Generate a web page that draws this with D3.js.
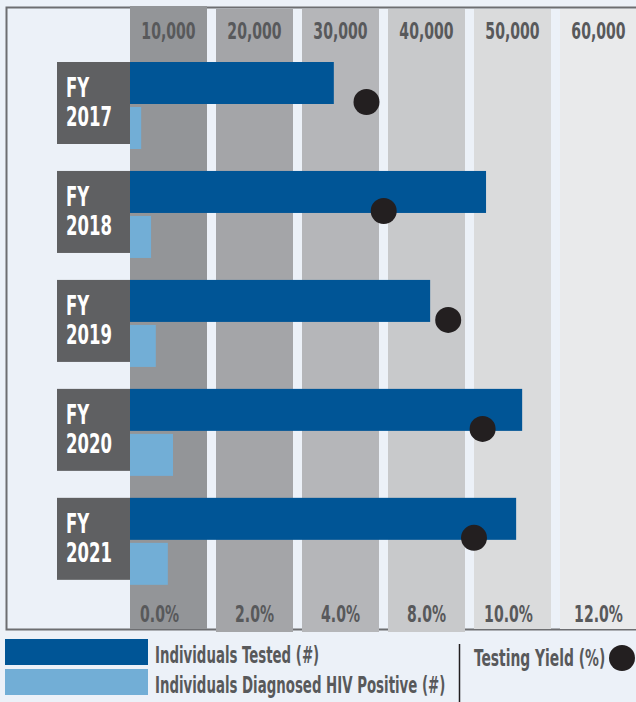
<!DOCTYPE html>
<html>
<head>
<meta charset="utf-8">
<script src="https://cdn.jsdelivr.net/npm/d3@7"></script>
<style>
  html, body { margin: 0; padding: 0; background: #ecf1f8; }
  svg { display: block; }
  text { font-family: "DejaVu Sans Condensed", "DejaVu Sans", sans-serif; font-weight: bold; }
</style>
</head>
<body>
<div id="chart"></div>
<script>
// Testing data by fiscal year
const years = ["2017", "2018", "2019", "2020", "2021"];
const tested = [23700, 41400, 34900, 45600, 44900];
const diagnosed = [1300, 2450, 3000, 5000, 4400];
const yieldPct = [5.5, 5.9, 7.4, 8.2, 8.0];

const topTicks = ["10,000", "20,000", "30,000", "40,000", "50,000", "60,000"];
const bottomTicks = ["0.0%", "2.0%", "4.0%", "8.0%", "10.0%", "12.0%"];
const bandColors = ["#939598", "#a4a5a8", "#b5b6b9", "#c8c9cb", "#dadbdc", "#e9eaeb"];

const W = 636, H = 702;
const darkBlue = "#005596", lightBlue = "#72aed6", labelGray = "#58595b";
const squeeze = 0.68;  // no condensed font around, so squash text horizontally

var svg = d3.select("#chart").append("svg")
    .attr("width", W)
    .attr("height", H);

svg.append("rect").attr("width", W).attr("height", H).attr("fill", "#ecf1f8");

// helper for squashed text
function addText(parent, x, y, str, size, fill, anchor, sx) {
    return parent.append("text")
        .attr("transform", "translate(" + x + "," + y + ") scale(" + (sx || squeeze) + ",1)")
        .attr("text-anchor", anchor || "start")
        .attr("font-size", size + "px")
        .attr("fill", fill)
        .text(str);
}

// scales
var xScale = d3.scaleLinear().domain([0, 60000]).range([130, 646]);
var yieldScale = d3.scaleLinear().domain([0, 12]).range([130, 646]);
var yScale = d3.scaleBand().domain(years).range([62, 585]).paddingInner(0.2);

const step = xScale(10000) - xScale(0);
const colW = step - 9;

// frame
svg.append("path")
    .attr("d", "M" + W + ",7.5H6.5V629.5H" + W)
    .attr("fill", "none")
    .attr("stroke", "#6d6e71")
    .attr("stroke-width", 2);

// grey columns
svg.selectAll(".col")
    .data(topTicks)
    .enter()
    .append("rect")
    .attr("class", "col")
    .attr("x", function(d, i) { return xScale(i * 10000); })
    .attr("y", function(d, i) { return i == 0 ? 6 : 9; })
    .attr("width", colW)
    .attr("height", function(d, i) { return i < 4 ? 623 : 620; })
    .attr("fill", function(d, i) { return bandColors[i]; });

// top tick labels
topTicks.forEach(function(t, i) {
    addText(svg, xScale(i * 10000) + colW / 2, 39, t, 23, labelGray, "middle");
});

// bottom tick labels
bottomTicks.forEach(function(t, i) {
    addText(svg, xScale(i * 10000) + colW / 2 - (i == 0 ? 9 : (i == 4 ? 4 : 0)), 622, t, 23, labelGray, "middle");
});

var groups = svg.selectAll(".year")
    .data(years)
    .enter()
    .append("g")
    .attr("class", "year")
    .attr("transform", function(d) { return "translate(0," + yScale(d) + ")"; });

const barH = 42;

// year label boxes
groups.append("rect")
    .attr("x", 57)
    .attr("y", 0)
    .attr("width", xScale(0) - 57)
    .attr("height", 82)
    .attr("fill", "#5f6062");

groups.each(function(d) {
    var g = d3.select(this);
    addText(g, 66, 35, "FY", 27, "white");
    addText(g, 66, 64, d, 27, "white");
});

// individuals tested
groups.append("rect")
    .attr("x", xScale(0))
    .attr("y", 0)
    .attr("width", function(d, i) { return xScale(tested[i]) - xScale(0); })
    .attr("height", barH)
    .attr("fill", darkBlue);

// diagnosed positive
groups.append("rect")
    .attr("x", xScale(0))
    .attr("y", barH + 3)
    .attr("width", function(d, i) { return xScale(diagnosed[i]) - xScale(0); })
    .attr("height", barH)
    .attr("fill", lightBlue);

// testing yield dots
groups.append("circle")
    .attr("cx", function(d, i) { return yieldScale(yieldPct[i]); })
    .attr("cy", 40)
    .attr("r", 13)
    .attr("fill", "#231f20");

// legend
var legend = svg.append("g");
legend.append("rect").attr("x", 5).attr("y", 639).attr("width", 143).attr("height", 26).attr("fill", darkBlue);
legend.append("rect").attr("x", 5).attr("y", 669).attr("width", 143).attr("height", 26).attr("fill", lightBlue);
addText(legend, 155, 663, "Individuals Tested (#)", 23, labelGray, "start", 0.645);
addText(legend, 155, 693, "Individuals Diagnosed HIV Positive (#)", 23, labelGray, "start", 0.645);
legend.append("line").attr("x1", 459.5).attr("x2", 459.5).attr("y1", 644).attr("y2", 702)
    .attr("stroke", "#231f20").attr("stroke-width", 1.5);
addText(legend, 474, 666, "Testing Yield (%)", 23, labelGray, "start", 0.67);
legend.append("circle").attr("cx", 622).attr("cy", 658).attr("r", 13).attr("fill", "#231f20");
</script>
</body>
</html>
